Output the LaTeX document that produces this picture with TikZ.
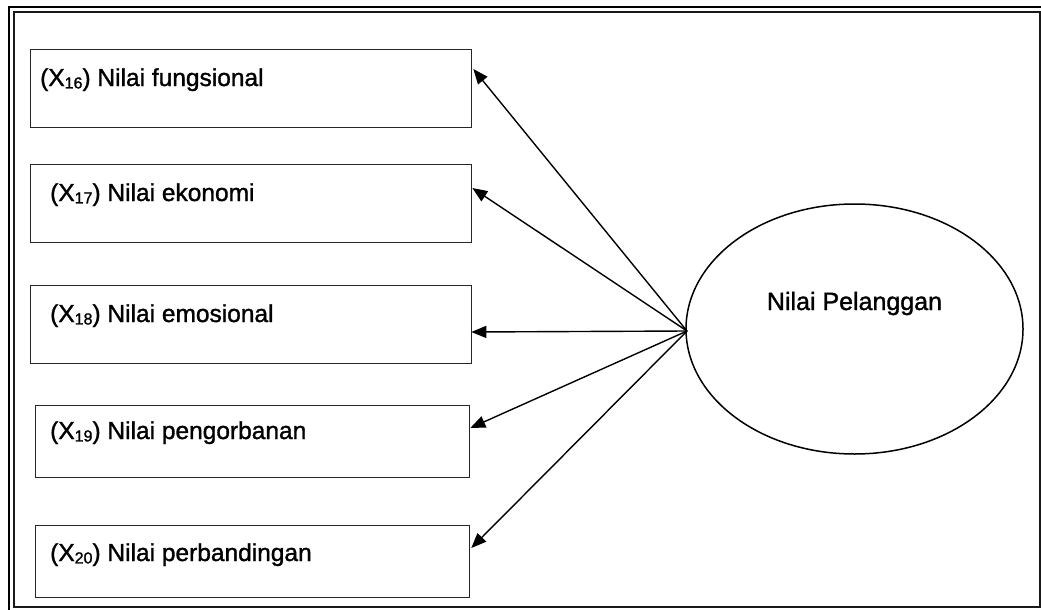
\documentclass[tikz,border=0pt]{standalone}
\usepackage{fontspec}
\setmainfont{Liberation Sans}[FakeBold=1.3]
\usetikzlibrary{arrows.meta,shapes.geometric,calc}
\begin{document}
\begin{tikzpicture}[x=1pt,y=-1pt,
  box/.style={draw=black!85,line width=1.3pt,rectangle,inner sep=0pt,
    minimum width=441pt,minimum height=78pt,anchor=north west},
  lbl/.style={inner sep=0pt,anchor=base west,font=\fontsize{24.5}{28}\selectfont},
  arr/.style={line width=1.4pt,-{Triangle[length=15pt,width=12pt]}},
  frame/.style={line width=2.4pt}]
\useasboundingbox (0,0) rectangle (1041,610);
\clip (0,0) rectangle (1041,610);
\newcommand{\xsub}[1]{(X\raisebox{-0.1em}{\fontsize{16}{18}\selectfont #1})}
% double frame
\draw[frame] (9,7) rectangle (1046,613);
\draw[frame,black!90] (14,12) rectangle (1040,607);
% indicator boxes
\node[box] (b1) at (30,49) {};
\node[box] (b2) at (30,164) {};
\node[box] (b3) at (30,285) {};
\node[box,minimum width=434pt,minimum height=72pt] (b4) at (35,405) {};
\node[box,minimum width=434pt,minimum height=72pt] (b5) at (35,525) {};
\node[lbl] (t1) at (40,86) {\xsub{16} Nilai fungsional};
\node[lbl] (t2) at (50,201) {\xsub{17} Nilai ekonomi};
\node[lbl] (t3) at (50,322) {\xsub{18} Nilai emosional};
\node[lbl] (t4) at (50,439) {\xsub{19} Nilai pengorbanan};
\node[lbl] (t5) at (50,561) {\xsub{20} Nilai perbandingan};
% latent construct
\node[draw,line width=1.5pt,ellipse,minimum width=337pt,minimum height=250pt,inner sep=0pt] (np) at (854.5,329) {};
\node[inner sep=0pt,anchor=base,font=\fontsize{25}{28}\selectfont] (npl) at (854.5,310) {Nilai Pelanggan};
\coordinate (src) at (687,331);
% loadings
\draw[arr] (src) -- ($(b1.north east)+(1,20)$);
\draw[arr] (src) -- ($(b2.north east)+(0,24)$);
\draw[arr] (src) -- ($(b3.north east)+(-1,47)$);
\draw[arr] (src) -- ($(b4.north east)+(0,23)$);
\draw[arr] (src) -- ($(b5.north east)+(1,23)$);
\end{tikzpicture}
\end{document}
